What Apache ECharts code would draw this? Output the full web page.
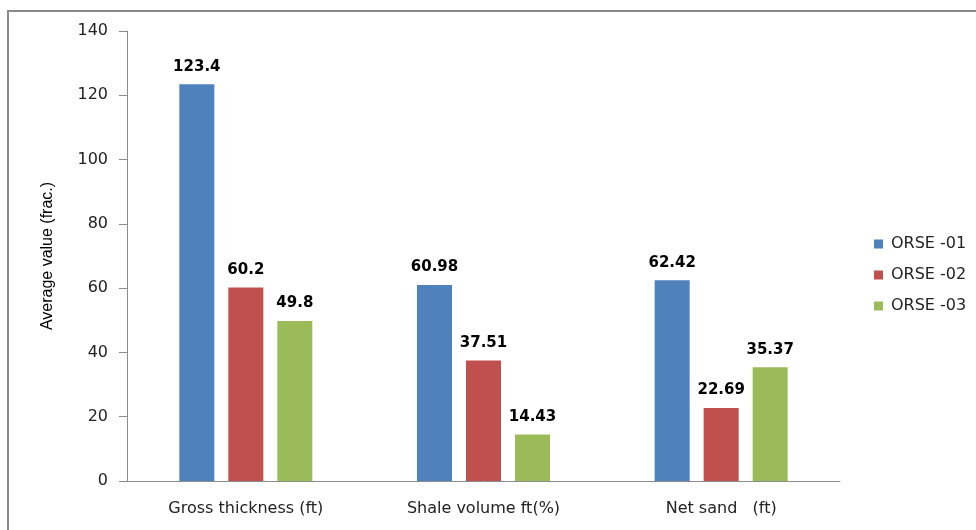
<!DOCTYPE html>
<html>
<head>
<meta charset="utf-8">
<script src="https://cdn.jsdelivr.net/npm/echarts@6/dist/echarts.min.js"></script>
<style>
html,body{margin:0;padding:0;background:#fff;}
#chart{width:976px;height:530px;}
</style>
</head>
<body>
<div id="chart"></div>
<script>
const categories = ['Gross thickness (ft)', 'Shale volume ft(%)', 'Net sand   (ft)'];
const seriesNames = ['ORSE -01', 'ORSE -02', 'ORSE -03'];
const orse01 = [123.4, 60.98, 62.42];
const orse02 = [60.2, 37.51, 22.69];
const orse03 = [49.8, 14.43, 35.37];
const colors = ['#4f81bd', '#c0504d', '#9bbb59'];

const chart = echarts.init(document.getElementById('chart'));
const font = 'DejaVu Sans, Verdana, sans-serif';

const mk = (name, data, color) => ({
  name: name,
  type: 'bar',
  data: data,
  barWidth: 35,
  barGap: '40%',
  itemStyle: { color: color },
  label: {
    show: true,
    position: 'top',
    distance: 10,
    color: '#000',
    fontWeight: 'bold',
    fontSize: 15,
    fontFamily: font
  }
});

chart.setOption({
  animation: false,
  graphic: [{
    type: 'rect',
    shape: { x: 8, y: 11, width: 1000, height: 560 },
    style: { fill: 'none', stroke: '#8a8a8a', lineWidth: 2 },
    silent: true
  }],
  grid: { left: 127, right: 136, top: 31, bottom: 49 },
  legend: {
    orient: 'vertical',
    left: 869,
    top: 231,
    itemWidth: 9,
    itemHeight: 9,
    itemGap: 15,
    itemStyle: { borderWidth: 0 },
    icon: 'rect',
    textStyle: { fontSize: 16, fontFamily: font, color: '#222', padding: [0, 0, 0, 3] },
    data: seriesNames
  },
  xAxis: {
    type: 'category',
    data: categories,
    axisLine: { lineStyle: { color: '#8c8c8c' } },
    axisTick: { show: false },
    axisLabel: { fontSize: 16, fontFamily: font, color: '#222', margin: 20 }
  },
  yAxis: {
    type: 'value',
    min: 0, max: 140, interval: 20,
    name: 'Average value (frac.)',
    nameLocation: 'middle',
    nameGap: 71,
    nameRotate: 90,
    nameTextStyle: { fontSize: 16, fontFamily: 'Liberation Sans Narrow, Arial Narrow, sans-serif', color: '#000' },
    axisLine: { show: true, lineStyle: { color: '#8c8c8c' } },
    axisTick: { show: true, inside: false, length: 8, lineStyle: { color: '#8c8c8c' } },
    splitLine: { show: false },
    axisLabel: { fontSize: 16, fontFamily: font, color: '#222', margin: 19 }
  },
  series: [
    mk(seriesNames[0], orse01, colors[0]),
    mk(seriesNames[1], orse02, colors[1]),
    mk(seriesNames[2], orse03, colors[2])
  ]
});
</script>
</body>
</html>
